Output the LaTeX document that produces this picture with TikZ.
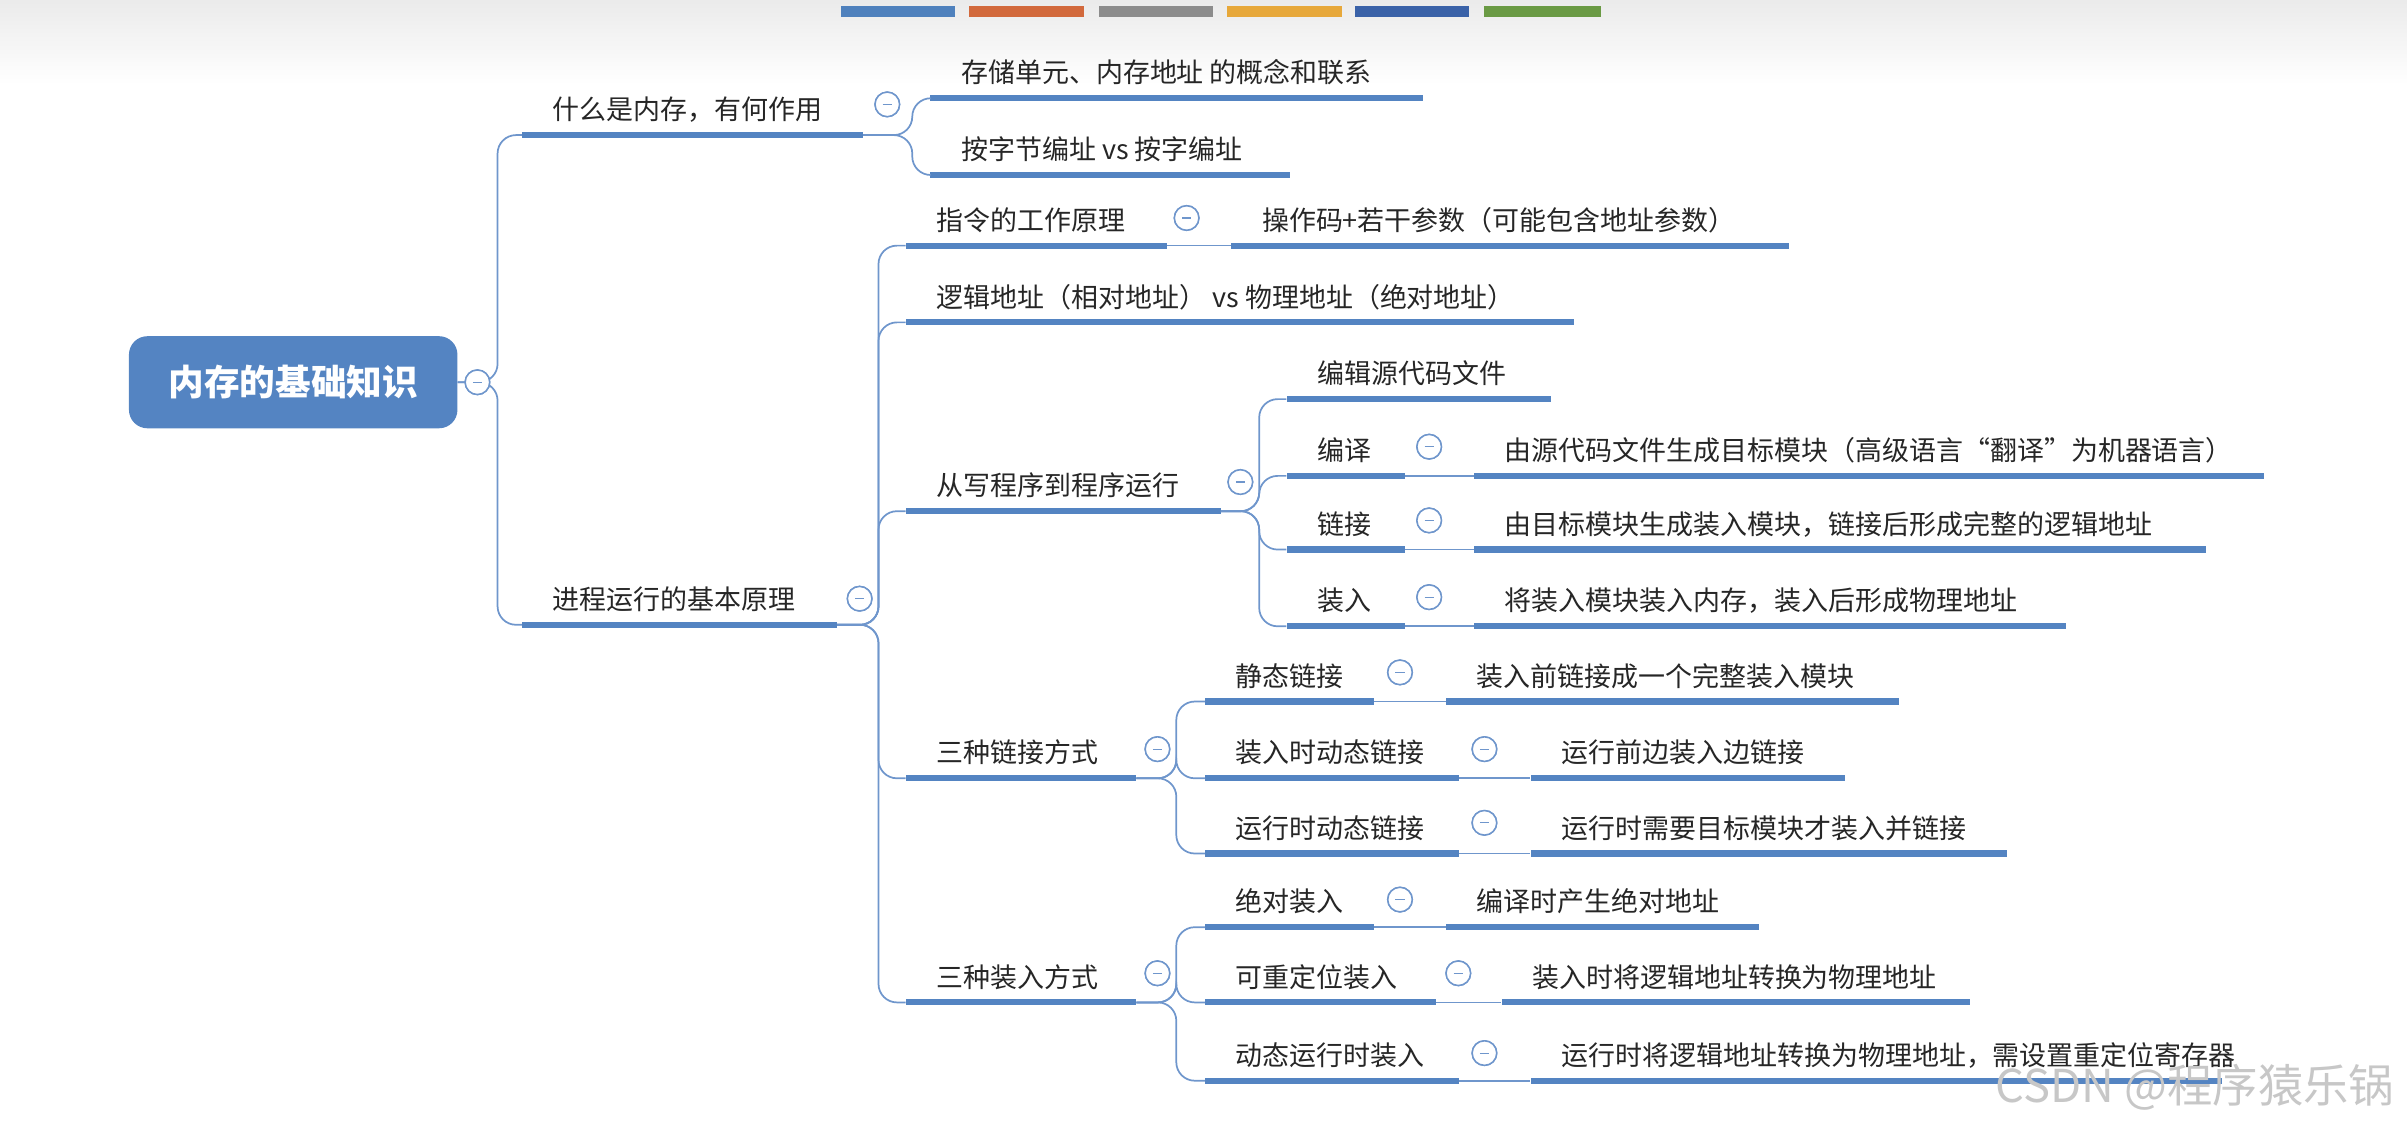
\documentclass[tikz,border=0pt]{standalone}
\usepackage{fontspec}
\setmainfont{Noto Sans CJK SC}
\usetikzlibrary{positioning}
\definecolor{bar}{HTML}{5484C2}
\definecolor{link}{HTML}{6F96CC}
\tikzset{
  bar/.style={fill=bar, inner sep=0, minimum height=0.2cm, anchor=west},
  word/.style={inner sep=0, anchor=base west, font=\fontsize{25}{28}\selectfont, text=black!85},
  conn/.style={draw=link, line width=1.6pt, rounded corners=0.6cm},
  fold/.style={circle, draw=link, fill=white, line width=1.4pt, minimum size=0.8cm, inner sep=0,
    path picture={\draw[link, line width=1pt] ([xshift=-0.15cm]path picture bounding box.center) -- ([xshift=0.15cm]path picture bounding box.center);}}
}
% name, x1, x2, y, text
\newcommand\topic[5]{%
  \node[bar, minimum width=(#3-#2)*0.05cm] (#1) at (#2,#4) {};
  \node[word] (#1t) at ([xshift=1cm, yshift=0.5cm]#1.west) {#5};}
\newcommand\fold[3]{\node[fold] (#1) at (#2,#3) {};}
\begin{document}
\begin{tikzpicture}[x=0.05cm, y=-0.05cm]
\useasboundingbox (0,0) rectangle (1568,731);
\shade[top color=black!8, bottom color=white] (0,0) rectangle (1568,55);
% colour bars at the top
\foreach \xa/\xb/\col in {548/622/4F81BD, 631/706/D2693C, 716/790/8C8C8C, 799/874/E7A83A, 883/957/3A62A8, 967/1043/6A9A44}{
  \definecolor{tab}{HTML}{\col}
  \fill[tab] (\xa,4) rectangle (\xb,11);}

\node[fill=bar, rounded corners=0.6cm, minimum width=10.7cm, minimum height=3cm,
  text=white, font=\fontsize{33}{36}\bfseries\selectfont] (root) at (191,249) {内存的基础知识};
\fold{froot}{311}{249}

\topic{a}{340}{562}{88}{什么是内存，有何作用}
\topic{b}{340}{545}{407}{进程运行的基本原理}
\fold{fa}{578}{68}
\fold{fb}{560}{390}

\topic{a1}{606}{927}{64}{存储单元、内存地址 的概念和联系}
\topic{a2}{606}{840}{114}{按字节编址 vs 按字编址}

\topic{b1}{590}{760}{160}{指令的工作原理}
\topic{b2}{590}{1025}{210}{逻辑地址（相对地址） vs 物理地址（绝对地址）}
\topic{b3}{590}{795}{333}{从写程序到程序运行}
\topic{b4}{590}{740}{507}{三种链接方式}
\topic{b5}{590}{740}{653}{三种装入方式}
\fold{fb1}{773}{142}
\fold{fb3}{808}{314}
\fold{fb4}{754}{488}
\fold{fb5}{754}{634}
\topic{b1a}{802}{1165}{160}{操作码+若干参数（可能包含地址参数）}

\topic{c1}{838}{1010}{260}{编辑源代码文件}
\topic{c2}{838}{915}{310}{编译}
\topic{c3}{838}{915}{358}{链接}
\topic{c4}{838}{915}{408}{装入}
\fold{fc2}{931}{291}
\fold{fc3}{931}{339}
\fold{fc4}{931}{389}
\topic{c2a}{960}{1475}{310}{由源代码文件生成目标模块（高级语言“翻译”为机器语言）}
\topic{c3a}{960}{1437}{358}{由目标模块生成装入模块，链接后形成完整的逻辑地址}
\topic{c4a}{960}{1346}{408}{将装入模块装入内存，装入后形成物理地址}

\topic{d1}{785}{895}{457}{静态链接}
\topic{d2}{785}{950}{507}{装入时动态链接}
\topic{d3}{785}{950}{556}{运行时动态链接}
\fold{fd1}{912}{438}
\fold{fd2}{967}{488}
\fold{fd3}{967}{536}
\topic{d1a}{942}{1237}{457}{装入前链接成一个完整装入模块}
\topic{d2a}{997}{1202}{507}{运行前边装入边链接}
\topic{d3a}{997}{1307}{556}{运行时需要目标模块才装入并链接}

\topic{e1}{785}{895}{604}{绝对装入}
\topic{e2}{785}{935}{653}{可重定位装入}
\topic{e3}{785}{950}{704}{动态运行时装入}
\fold{fe1}{912}{586}
\fold{fe2}{950}{634}
\fold{fe3}{967}{686}
\topic{e1a}{942}{1146}{604}{编译时产生绝对地址}
\topic{e2a}{978}{1283}{653}{装入时将逻辑地址转换为物理地址}
\topic{e3a}{997}{1447}{704}{运行时将逻辑地址转换为物理地址，需设置重定位寄存器}

% connectors
\foreach \c in {a,b}
  \draw[conn] (root.east) -- ++(26,0) |- (\c.west);
\foreach \c in {a1,a2}
  \draw[conn] (a.east) -- ++(32,0) |- (\c.west);
\foreach \c in {b1,b2,b3,b4,b5}
  \draw[conn] (b.east) -- ++(27,0) |- (\c.west);
\foreach \c in {c1,c2,c3,c4}
  \draw[conn] (b3.east) -- ++(25,0) |- (\c.west);
\foreach \c in {d1,d2,d3}
  \draw[conn] (b4.east) -- ++(26,0) |- (\c.west);
\foreach \c in {e1,e2,e3}
  \draw[conn] (b5.east) -- ++(26,0) |- (\c.west);
\foreach \p/\c in {b1/b1a, c2/c2a, c3/c3a, c4/c4a, d1/d1a, d2/d2a, d3/d3a, e1/e1a, e2/e2a, e3/e3a}
  \draw[conn] (\p.east) -- (\c.west);
\foreach \f in {froot,fa,fb,fb1,fb3,fb4,fb5,fc2,fc3,fc4,fd1,fd2,fd3,fe1,fe2,fe3}
  \node[fold] at (\f) {};

\node[anchor=base east, text=black!22, font=\fontsize{42}{46}\selectfont] (mark) at (1562,718) {CSDN @程序猿乐锅};
\end{tikzpicture}
\end{document}
